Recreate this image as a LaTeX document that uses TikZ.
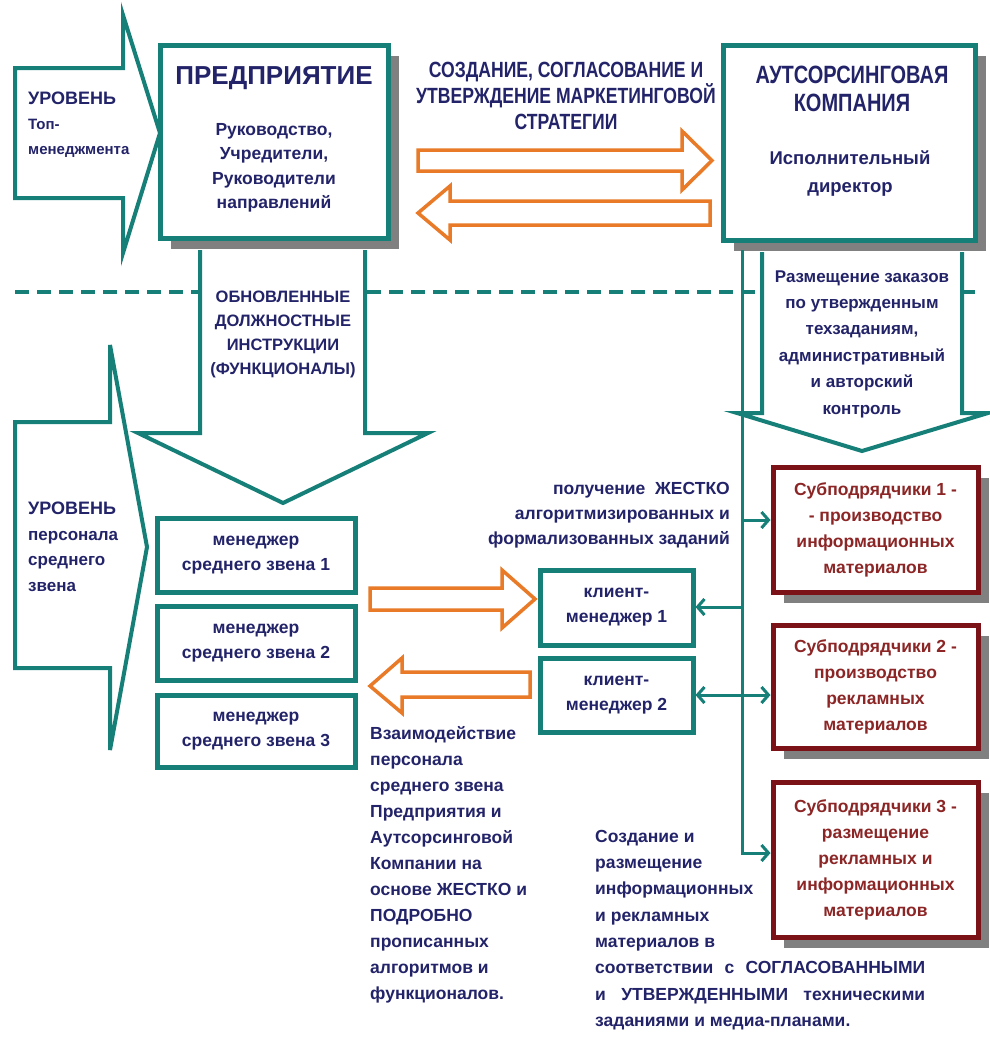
\documentclass[tikz,border=0pt]{standalone}
\usepackage{fontspec}
\setmainfont{Liberation Sans}
\newfontfamily\narrowfont[FakeStretch=0.8]{Liberation Sans}
\usetikzlibrary{arrows.meta,shadows}
\definecolor{tealc}{RGB}{22,128,120}
\definecolor{navyc}{RGB}{35,35,105}
\definecolor{orangec}{RGB}{232,122,40}
\definecolor{redc}{RGB}{122,18,24}
\definecolor{redtxt}{RGB}{140,38,38}
\definecolor{shadowc}{RGB}{128,128,128}
\begin{document}
\begin{tikzpicture}[x=1pt,y=-1pt,font=\bfseries\fontsize{17.5}{25}\selectfont,text=navyc,
  txt/.style={align=center,inner sep=0pt},
  shd/.style={drop shadow={shadow xshift=11pt,shadow yshift=-11pt,fill=shadowc,opacity=1}},
  tbox/.style={draw=tealc,line width=5pt,fill=white,align=center,inner sep=0pt},
  rbox/.style={draw=redc,line width=5pt,fill=white,text=redtxt,align=center,inner sep=0pt,shd},
  blk/.style={draw=tealc,line width=4pt,fill=white,line join=miter},
  oarr/.style={draw=orangec,line width=3.5pt,fill=white,line join=miter},
  conn/.style={draw=tealc,line width=3pt,-{Straight Barb[length=7pt,width=16pt]}}]
\fill[white] (0,0) rectangle (989,1053);
\useasboundingbox (0,0) rectangle (989,1053);
% dividing line between the two levels
\draw[tealc,line width=4pt,dash pattern=on 14pt off 8pt] (15,292) -- (975,292);
% level arrows
\path[blk] (15,68) -- (123,68) -- (123,15) -- (160,133) -- (123,253) -- (123,198) -- (15,198) -- cycle;
\path[blk] (15,422) -- (110,422) -- (110,345) -- (147,547) -- (110,750) -- (110,668) -- (15,668) -- cycle;
% wide arrows going down
\path[blk] (200,250) -- (200,433) -- (138,433) -- (283,503) -- (428,433) -- (365,433) -- (365,250);
\path[blk] (762,252) -- (762,413) -- (737,413) -- (862,451) -- (988,413) -- (962,413) -- (962,252);
% top boxes
\node[tbox,shd,minimum width=228pt,minimum height=193pt] (ent) at (274,141.5) {};
\node[tbox,shd,minimum width=252pt,minimum height=195pt] (out) at (849,142.5) {};
\node[txt,font=\bfseries\fontsize{26}{30}\selectfont] (entT) at (274,78) {ПРЕДПРИЯТИЕ};
\node[txt,font=\bfseries\fontsize{17.5}{24.5}\selectfont] (entB) at (274,168) {Руководство,\\Учредители,\\Руководители\\направлений};
\node[txt,font=\narrowfont\bfseries\fontsize{25}{28}\selectfont] (outT) at (852,89) {АУТСОРСИНГОВАЯ\\КОМПАНИЯ};
\node[txt,font=\bfseries\fontsize{18.5}{28}\selectfont] (outB) at (850,174) {Исполнительный\\директор};
\node[txt,font=\narrowfont\bfseries\fontsize{22}{26}\selectfont] (strat) at (566,96) {СОЗДАНИЕ, СОГЛАСОВАНИЕ И\\УТВЕРЖДЕНИЕ МАРКЕТИНГОВОЙ\\СТРАТЕГИИ};
% orange arrows
\path[oarr] (418,150) -- (682,150) -- (682,131) -- (712,160.5) -- (682,190) -- (682,171) -- (418,171) -- cycle;
\path[oarr] (710,201) -- (450,201) -- (450,186) -- (418,213) -- (450,240) -- (450,225) -- (710,225) -- cycle;
\path[oarr] (370,588) -- (502,588) -- (502,570) -- (535,599) -- (502,628) -- (502,610) -- (370,610) -- cycle;
\path[oarr] (530,672) -- (402,672) -- (402,658) -- (370,686) -- (402,713) -- (402,697) -- (530,697) -- cycle;
% level texts
\node[txt,anchor=west,align=left,font=\bfseries\fontsize{15}{25}\selectfont] (lvlTop) at (28,125) {{\fontsize{18}{25}\selectfont УРОВЕНЬ}\\Топ-\\менеджмента};
\node[txt,anchor=west,align=left,font=\bfseries\fontsize{17}{25.5}\selectfont] (lvlMid) at (28,547) {{\fontsize{18}{25}\selectfont УРОВЕНЬ}\\персонала\\среднего\\звена};
\node[txt,font=\bfseries\fontsize{16.5}{24}\selectfont] (instr) at (283,334) {ОБНОВЛЕННЫЕ\\ДОЛЖНОСТНЫЕ\\ИНСТРУКЦИИ\\(ФУНКЦИОНАЛЫ)};
\node[txt,font=\bfseries\fontsize{17}{26.4}\selectfont] (order) at (862,344) {Размещение заказов\\по утвержденным\\техзаданиям,\\административный\\и авторский\\контроль};
% middle managers and client managers
\node[tbox,minimum width=198pt,minimum height=74pt] (mgr1) at (256,555) {менеджер\\среднего звена 1};
\node[tbox,minimum width=198pt,minimum height=74pt] (mgr2) at (256,643) {менеджер\\среднего звена 2};
\node[tbox,minimum width=198pt,minimum height=72pt] (mgr3) at (256,731) {менеджер\\среднего звена 3};
\node[tbox,minimum width=153pt,minimum height=75pt] (cl1) at (616.5,607.5) {клиент-\\менеджер 1};
\node[tbox,minimum width=153pt,minimum height=74pt] (cl2) at (616.5,695) {клиент-\\менеджер 2};
% subcontractors
\node[rbox,minimum width=205pt,minimum height=125pt,font=\bfseries\fontsize{17.5}{26}\selectfont] (sub1) at (875.5,529.5) {Субподрядчики 1 -\\- производство\\информационных\\материалов};
\node[rbox,minimum width=205pt,minimum height=123pt,font=\bfseries\fontsize{17.5}{26}\selectfont] (sub2) at (875.5,686.5) {Субподрядчики 2 -\\производство\\рекламных\\материалов};
\node[rbox,minimum width=205pt,minimum height=155pt,font=\bfseries\fontsize{17.5}{26}\selectfont] (sub3) at (875.5,859.5) {Субподрядчики 3 -\\размещение\\рекламных и\\информационных\\материалов};
% connectors
\coordinate (trTop) at (742,250);
\coordinate (t1) at (742,520);
\coordinate (t2) at (742,607);
\coordinate (t3) at (742,853);
\draw[conn] (trTop) |- (sub3.west |- t3);
\draw[conn] (t1) -- (sub1.west |- t1);
\draw[conn] (t2) -- (cl1.east |- t2);
\draw[conn,{Straight Barb[length=7pt,width=16pt]}-{Straight Barb[length=7pt,width=16pt]}] (cl2.east) -- (sub2.west |- cl2.east);
% notes
\node[txt,anchor=east,align=right] (task) at (730,515) {получение~~ЖЕСТКО\\алгоритмизированных и\\формализованных заданий};
\node[txt,anchor=west,align=left,font=\bfseries\fontsize{17.5}{26}\selectfont] (interact) at (370,865) {Взаимодействие\\персонала\\среднего звена\\Предприятия и\\Аутсорсинговой\\Компании на\\основе ЖЕСТКО и\\ПОДРОБНО\\прописанных\\алгоритмов и\\функционалов.};
\node[txt,anchor=west,align=left,font=\bfseries\fontsize{17.5}{26.3}\selectfont] (create) at (595,930) {Создание и\\размещение\\информационных\\и рекламных\\материалов в\\\makebox[330pt][s]{соответствии с СОГЛАСОВАННЫМИ}\\\makebox[330pt][s]{и УТВЕРЖДЕННЫМИ техническими}\\заданиями и медиа-планами.};
\end{tikzpicture}
\end{document}
